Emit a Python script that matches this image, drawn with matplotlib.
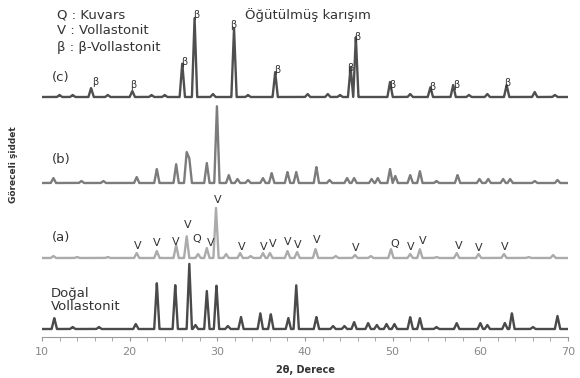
import matplotlib
matplotlib.use('Agg')
import matplotlib.pyplot as plt
import numpy as np

plt.rcParams['font.family'] = ['DejaVu Sans']

# Peak positions (2theta, degrees) and heights
c_pos = [12.0, 13.5, 15.6, 17.5, 20.3, 22.5, 24.0, 26.0, 27.4, 29.5, 31.9, 33.5, 36.6,
         40.3, 42.6, 44.0, 45.2, 45.8, 49.7, 52.0, 54.3, 56.9, 58.7, 60.8, 63.0, 66.2, 68.5]
c_hts = [2, 2, 9, 2, 6, 2, 2, 34, 80, 3, 70, 2, 25,
         3, 3, 2, 30, 60, 15, 3, 10, 12, 2, 3, 12, 5, 2]

b_pos = [11.3, 14.5, 17.0, 20.8, 23.1, 25.3, 26.5, 26.8, 28.8, 29.95, 31.3, 32.3, 33.5, 35.2,
         36.2, 38.0, 39.0, 41.3, 42.8, 44.8, 45.6, 47.6, 48.3, 49.7, 50.3, 52.0, 53.1, 55.0,
         57.4, 59.9, 60.9, 62.6, 63.4, 66.2, 68.8]
b_hts = [5, 2, 2, 6, 14, 19, 31, 25, 20, 78, 8, 4, 3, 5,
         10, 11, 11, 16, 3, 5, 5, 4, 5, 14, 7, 8, 12, 2,
         8, 4, 4, 4, 4, 2, 3]

a_pos = [11.3, 14.0, 17.5, 20.8, 23.1, 25.3, 26.5, 27.8, 28.8, 29.85, 31.0, 32.6, 33.8, 35.2,
         36.0, 38.0, 39.1, 41.2, 43.5, 45.7, 47.5, 49.8, 52.0, 53.1, 55.0, 57.3, 59.8, 62.7, 65.5, 68.3]
a_hts = [2, 1, 1, 5, 7, 13, 22, 4, 10, 50, 4, 5, 2, 5,
         5, 7, 6, 9, 2, 3, 2, 9, 4, 9, 1, 5, 4, 4, 1, 3]

d_pos = [11.4, 13.5, 16.5, 20.7, 23.1, 25.2, 26.8, 27.5, 28.8, 29.9, 31.2, 32.7, 34.9, 36.1,
         38.1, 39.0, 41.3, 43.2, 44.5, 45.6, 47.2, 48.2, 49.3, 50.2, 52.0, 53.1, 55.0, 57.3,
         60.0, 60.8, 62.8, 63.6, 66.0, 68.8]
d_hts = [11, 2, 2, 5, 46, 44, 66, 4, 38, 44, 3, 12, 16, 15,
         11, 44, 12, 3, 3, 7, 6, 4, 5, 5, 12, 11, 2, 6,
         6, 4, 6, 16, 2, 13]

# Phase markers
v_label_pos = [20.95, 23.1, 25.3, 26.65, 29.2, 30.1, 32.8, 35.3, 36.3, 38.05, 39.2, 41.3,
               45.8, 52.1, 53.4, 57.5, 59.8, 62.8]
v_label_y = [91, 94, 95, 112, 94, 137, 90, 90, 93, 95, 92, 97, 89, 90, 96, 91, 89, 90]
q_label_pos = [27.7, 50.25]
q_label_y = [98, 93]
beta_label_pos = [16.05, 20.4, 26.2, 27.6, 31.8, 36.8, 45.2, 46.0, 50.0, 54.5, 57.2, 63.1]
beta_label_y = [255, 252, 275, 322, 312, 267, 269, 300, 252, 250, 252, 254]

# Vertical offsets of the stacked patterns
d_offset, a_offset, b_offset, c_offset = 8, 79, 154, 240
peak_halfwidth = 0.3

two_theta = np.linspace(10, 70, 4000)


def pattern(pos, hts):
    y = np.zeros_like(two_theta)
    for p, h in zip(pos, hts):
        y += h * np.clip(1 - np.abs(two_theta - p) / peak_halfwidth, 0, None)
    return y


fig = plt.figure(figsize=(5.8, 3.78), dpi=100)
ax = fig.add_axes([42/580, 41/378, 526/580, 337/378])

ax.plot(two_theta, pattern(d_pos, d_hts) + d_offset, color='#4a4a4a', lw=1.7)
ax.plot(two_theta, pattern(a_pos, a_hts) + a_offset, color='#ababab', lw=1.7)
ax.plot(two_theta, pattern(b_pos, b_hts) + b_offset, color='#7c7c7c', lw=1.7)
ax.plot(two_theta, pattern(c_pos, c_hts) + c_offset, color='#4f4f4f', lw=1.7)

for x, y in zip(v_label_pos, v_label_y):
    ax.text(x, y, 'V', ha='center', va='center', fontsize=8, color='#333333')
for x, y in zip(q_label_pos, q_label_y):
    ax.text(x, y, 'Q', ha='center', va='center', fontsize=8, color='#333333')
for x, y in zip(beta_label_pos, beta_label_y):
    ax.text(x, y, 'β', ha='center', va='center', fontsize=7, color='#333333')

txt = dict(fontsize=9.5, color='#333333', ha='left', va='center')
ax.text(11.7, 322, 'Q : Kuvars', **txt)
ax.text(11.7, 306, 'V : Vollastonit', **txt)
ax.text(11.7, 290, 'β : β-Vollastonit', **txt)
ax.text(33.1, 322, 'Öğütülmüş karışım', **txt)
ax.text(11.1, 259, '(c)', **txt)
ax.text(11.1, 177, '(b)', **txt)
ax.text(11.1, 100, '(a)', **txt)
ax.text(11.0, 44, 'Doğal', **txt)
ax.text(11.0, 30, 'Vollastonit', **txt)

fig.text(14/580, 1 - 165/378, 'Göreceli şiddet', rotation=90, ha='center', va='center',
         fontsize=6.5, color='#333333', fontweight='bold')

ax.set_xlim(10, 70)
ax.set_ylim(0, 337)
ax.set_xticks(np.arange(10, 71, 10))
ax.set_xticks(np.arange(10, 71, 2), minor=True)
ax.tick_params(axis='x', which='both', direction='out', length=3, color='#999999',
               labelsize=8, labelcolor='#888888', pad=4)
ax.set_yticks([])
for s in ['top', 'right', 'left']:
    ax.spines[s].set_visible(False)
ax.spines['bottom'].set_color('#999999')
ax.set_xlabel('2θ, Derece', fontsize=7, fontweight='bold', color='#333333', labelpad=6)

fig.savefig('out.png', dpi=100)
